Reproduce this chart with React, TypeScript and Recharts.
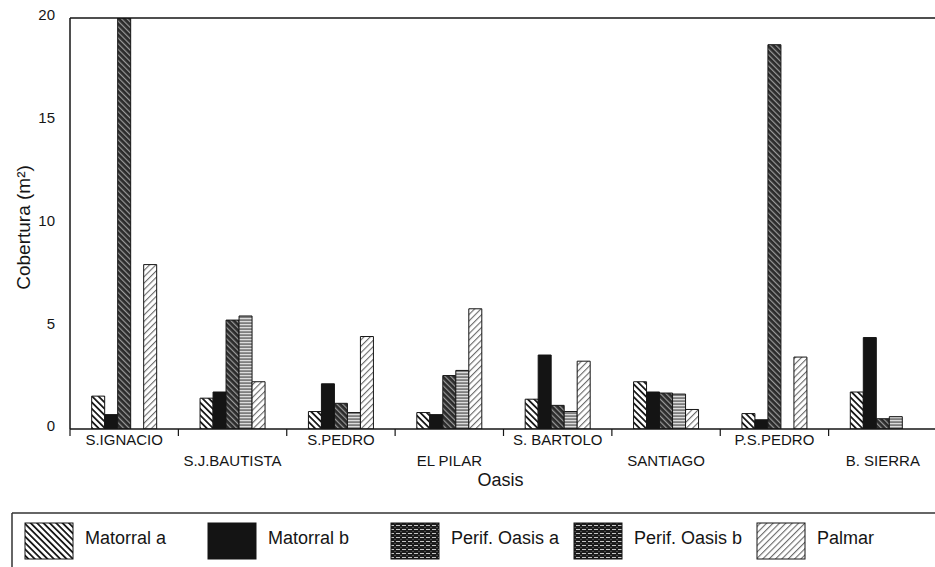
import React from 'react';
import { BarChart, Bar, XAxis, YAxis, ReferenceLine, Label } from 'recharts';

// Cover per oasis (m²), one array per vegetation class
const oasisNames = ['S.IGNACIO', 'S.J.BAUTISTA', 'S.PEDRO', 'EL PILAR', 'S. BARTOLO', 'SANTIAGO', 'P.S.PEDRO', 'B. SIERRA'];
const matorralA = [1.6, 1.5, 0.85, 0.8, 1.45, 2.3, 0.75, 1.8];
const matorralB = [0.7, 1.8, 2.2, 0.7, 3.6, 1.8, 0.45, 4.45];
const perifOasisA = [20, 5.3, 1.25, 2.6, 1.15, 1.75, 18.7, 0.5];
const perifOasisB = [0, 5.5, 0.8, 2.85, 0.85, 1.7, 0, 0.6];
const palmar = [8.0, 2.3, 4.5, 5.85, 3.3, 0.95, 3.5, 0];
const yTicks = [0, 5, 10, 15, 20];

const FONT = '"Liberation Sans", Arial, Helvetica, sans-serif';
const INK = '#151515';

const series = [
  { key: 'matorralA', name: 'Matorral a', fill: 'url(#hatch-matorral-a)', legendFill: 'url(#hatch-matorral-a)' },
  { key: 'matorralB', name: 'Matorral b', fill: '#141414', legendFill: '#141414' },
  { key: 'perifA', name: 'Perif. Oasis a', fill: 'url(#hatch-perif-a)', legendFill: 'url(#speckle-perif)' },
  { key: 'perifB', name: 'Perif. Oasis b', fill: 'url(#stripe-perif-b)', legendFill: 'url(#speckle-perif)' },
  { key: 'palmar', name: 'Palmar', fill: 'url(#hatch-palmar)', legendFill: 'url(#hatch-palmar)' },
];

const chartData = oasisNames.map((oasis, i) => ({
  oasis,
  matorralA: matorralA[i],
  matorralB: matorralB[i],
  perifA: perifOasisA[i],
  perifB: perifOasisB[i],
  palmar: palmar[i],
}));

const CHART_W = 945;
const CHART_H = 567;
const MARGIN = { top: 18, right: 8, left: 0, bottom: 78 };
const Y_AXIS_W = 70;
const BAND = (CHART_W - MARGIN.left - MARGIN.right - Y_AXIS_W) / oasisNames.length;

// Category labels alternate between two rows; ticks sit on the band edges
const OasisTick = (props: any) => {
  const { x, y, payload, index } = props;
  const half = payload && typeof payload.offset === 'number' && payload.offset > 0 ? payload.offset : BAND / 2;
  const lower = index % 2 === 1;
  return (
    <g>
      <line x1={x - half} x2={x - half} y1={y} y2={y + 7} stroke={INK} strokeWidth={1.2} />
      {index === oasisNames.length - 1 && (
        <line x1={x + half} x2={x + half} y1={y} y2={y + 7} stroke={INK} strokeWidth={1.2} />
      )}
      <text x={x} y={y + (lower ? 37 : 16)} textAnchor="middle" fontSize={15} fill={INK} fontFamily={FONT}>
        {payload.value}
      </text>
    </g>
  );
};

const Patterns = () => (
  <defs>
    <pattern id="hatch-matorral-a" patternUnits="userSpaceOnUse" width="4.5" height="4.5" patternTransform="rotate(-45)">
      <rect width="4.5" height="4.5" fill="#fff" />
      <rect width="1.8" height="4.5" fill="#1a1a1a" />
    </pattern>
    <pattern id="hatch-perif-a" patternUnits="userSpaceOnUse" width="4" height="4" patternTransform="rotate(-45)">
      <rect width="4" height="4" fill="#2b2b2b" />
      <rect width="1.2" height="4" fill="#9a9a9a" />
    </pattern>
    <pattern id="stripe-perif-b" patternUnits="userSpaceOnUse" width="4" height="3">
      <rect width="4" height="3" fill="#7e7e7e" />
      <rect width="4" height="1.2" fill="#dcdcdc" />
    </pattern>
    <pattern id="hatch-palmar" patternUnits="userSpaceOnUse" width="4.5" height="4.5" patternTransform="rotate(45)">
      <rect width="4.5" height="4.5" fill="#fff" />
      <rect width="1.1" height="4.5" fill="#6a6a6a" />
    </pattern>
    <pattern id="speckle-perif" patternUnits="userSpaceOnUse" width="6" height="4">
      <rect width="6" height="4" fill="#1c1c1c" />
      <rect x="0" y="1" width="4" height="0.9" fill="#d8d8d8" />
      <rect x="4.5" y="3" width="1" height="0.8" fill="#999" />
    </pattern>
  </defs>
);

const LegendBox = () => (
  <svg width={935} height={67} style={{ position: 'absolute', left: 0, top: 500 }}>
    <Patterns />
    <line x1={12} x2={935} y1={13} y2={13} stroke="#333" strokeWidth={1.5} />
    <line x1={12} x2={12} y1={13} y2={67} stroke="#333" strokeWidth={1.5} />
    {series.map((s, i) => {
      const sx = 25 + i * 183;
      return (
        <g key={s.key}>
          <rect x={sx} y={23} width={48} height={36} fill={s.legendFill} stroke={INK} strokeWidth={1} />
          <text x={sx + 60} y={38} dominantBaseline="central" fontSize={18} fill={INK} fontFamily={FONT}>
            {s.name}
          </text>
        </g>
      );
    })}
  </svg>
);

export default function App() {
  return (
    <div style={{ position: 'absolute', left: 0, top: 0, width: 935, height: 567, overflow: 'hidden', background: '#fff', fontFamily: FONT }}>
      <BarChart
        width={CHART_W}
        height={CHART_H}
        data={chartData}
        margin={MARGIN}
        barCategoryGap="20%"
        barGap={0}
      >
        <XAxis
          dataKey="oasis"
          interval={0}
          height={60}
          tickLine={false}
          tickSize={0}
          tickMargin={0}
          axisLine={{ stroke: INK, strokeWidth: 1.5 }}
          tick={<OasisTick />}
        >
          <Label
            content={({ viewBox }: any) => (
              <text x={viewBox.x + viewBox.width / 2 - 3} y={viewBox.y + 57} textAnchor="middle" fontSize={18} fill={INK} fontFamily={FONT}>
                Oasis
              </text>
            )}
          />
        </XAxis>
        <YAxis
          width={Y_AXIS_W}
          domain={[0, 20]}
          ticks={yTicks}
          allowDataOverflow
          tickLine={false}
          tickSize={6}
          tickMargin={9}
          axisLine={{ stroke: INK, strokeWidth: 1.5 }}
          tick={{ fill: INK, fontSize: 15, fontFamily: FONT, dy: -3 }}
        >
          <Label
            content={({ viewBox }: any) => {
              const cx = 23;
              const cy = viewBox.y + viewBox.height / 2 + 4;
              return (
                <text x={cx} y={cy} transform={`rotate(-90 ${cx} ${cy})`} textAnchor="middle" dominantBaseline="central" fontSize={19} fill={INK} fontFamily={FONT}>
                  Cobertura (m²)
                </text>
              );
            }}
          />
        </YAxis>
        <ReferenceLine y={20} stroke={INK} strokeWidth={1.5} />
        {series.map((s) => (
          <Bar key={s.key} dataKey={s.key} name={s.name} fill={s.fill} stroke={INK} strokeWidth={1} isAnimationActive={false} />
        ))}
      </BarChart>
      <LegendBox />
    </div>
  );
}
